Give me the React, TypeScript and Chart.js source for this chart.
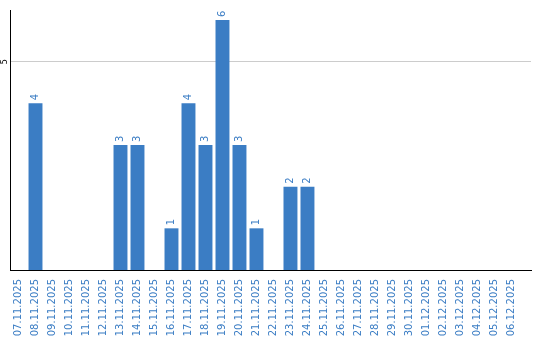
import React, { useEffect, useRef } from "react";
import { Chart, registerables } from "chart.js";

Chart.register(...registerables);

const dates = [
  "07.11.2025", "08.11.2025", "09.11.2025", "10.11.2025", "11.11.2025",
  "12.11.2025", "13.11.2025", "14.11.2025", "15.11.2025", "16.11.2025",
  "17.11.2025", "18.11.2025", "19.11.2025", "20.11.2025", "21.11.2025",
  "22.11.2025", "23.11.2025", "24.11.2025", "25.11.2025", "26.11.2025",
  "27.11.2025", "28.11.2025", "29.11.2025", "30.11.2025", "01.12.2025",
  "02.12.2025", "03.12.2025", "04.12.2025", "05.12.2025", "06.12.2025",
];
const counts = [
  0, 4, 0, 0, 0,
  0, 3, 3, 0, 1,
  4, 3, 6, 3, 1,
  0, 2, 2, 0, 0,
  0, 0, 0, 0, 0,
  0, 0, 0, 0, 0,
];
const yTickValues = [5];

const BLUE = "#3b7dc4";
const FONT = "'DejaVu Sans', sans-serif";

const labelsPlugin = {
  id: "valueLabels",
  afterDatasetsDraw(chart: any) {
    const ctx = chart.ctx;
    const meta = chart.getDatasetMeta(0);
    ctx.save();
    ctx.fillStyle = BLUE;
    ctx.font = `10px ${FONT}`;
    ctx.textAlign = "left";
    ctx.textBaseline = "middle";
    meta.data.forEach((bar: any, i: number) => {
      const v = counts[i];
      if (!v) return;
      ctx.save();
      ctx.translate(bar.x, bar.y - 3);
      ctx.rotate(-Math.PI / 2);
      ctx.fillText(String(v), 0, 0);
      ctx.restore();
    });
    const y = chart.scales.y;
    ctx.fillStyle = "#000";
    ctx.font = `8px ${FONT}`;
    ctx.textAlign = "center";
    ctx.textBaseline = "middle";
    yTickValues.forEach((t) => {
      ctx.save();
      ctx.translate(4.5, y.getPixelForValue(t));
      ctx.rotate(-Math.PI / 2);
      ctx.fillText(String(t), 0, 0);
      ctx.restore();
    });
    ctx.restore();
  },
};

export default function App() {
  const ref = useRef<HTMLCanvasElement>(null);
  useEffect(() => {
    if (!ref.current) return;
    const chart = new Chart(ref.current, {
      type: "bar",
      data: {
        labels: dates,
        datasets: [
          {
            data: counts,
            backgroundColor: BLUE,
            categoryPercentage: 1,
            barPercentage: 0.82,
          },
        ],
      },
      options: {
        animation: false,
        responsive: false,
        layout: { padding: { top: 10, right: 9, left: 0, bottom: 0 } },
        plugins: { legend: { display: false }, tooltip: { enabled: false } },
        scales: {
          x: {
            afterBuildTicks: (s: any) => {
              s._valueRange = s._valueRange + 0.65;
            },
            afterFit: (s: any) => {
              s.height = 70;
            },
            grid: { display: false, drawTicks: false },
            border: { display: true, color: "#000", width: 1 },
            ticks: {
              autoSkip: false,
              minRotation: 90,
              maxRotation: 90,
              padding: 9,
              color: BLUE,
              font: { family: FONT, size: 10 },
            },
          },
          y: {
            min: 0,
            max: 6.24,
            afterBuildTicks: (s: any) => {
              s.ticks = yTickValues.map((v) => ({ value: v }));
            },
            afterFit: (s: any) => {
              s.width = 10;
            },
            grid: { color: "#cccccc", drawTicks: false },
            border: { display: true, color: "#000", width: 1 },
            ticks: { display: false },
          },
        },
      },
      plugins: [labelsPlugin],
    });
    return () => chart.destroy();
  }, []);
  return (
    <div style={{ position: "absolute", left: 0, top: 0, width: 540, height: 340, background: "#fff" }}>
      <canvas ref={ref} width={540} height={340} style={{ display: "block" }} />
    </div>
  );
}
